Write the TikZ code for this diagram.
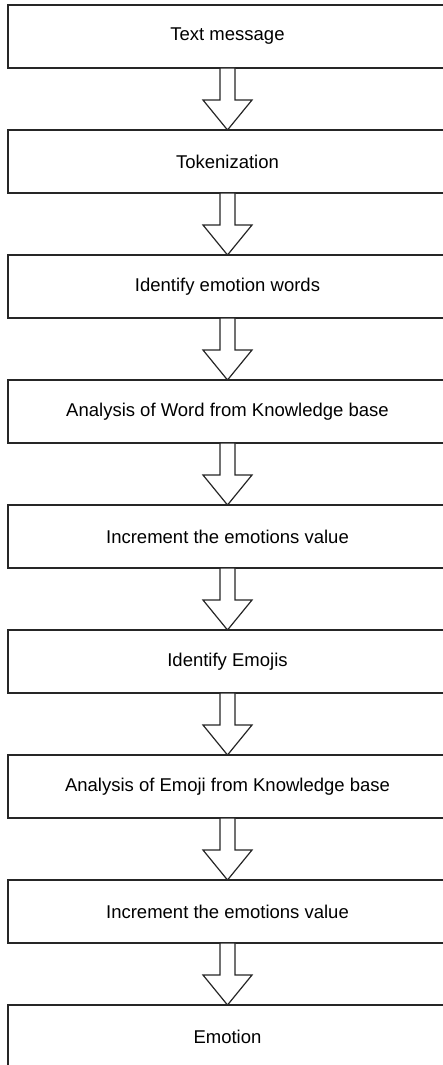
\documentclass[tikz,border=0pt]{standalone}
\usepackage{fontspec}
\setmainfont{Liberation Sans}
\usetikzlibrary{calc,positioning}
\tikzset{node distance=62pt,
  stepbox/.style={draw=black!85, line width=1.2pt, minimum width=439pt, minimum height=63pt,
    font=\fontsize{18.5}{22}\selectfont, inner sep=0pt, outer sep=0pt},
  fatarrow/.style={draw=black!85, line width=1.2pt, fill=white, line join=miter}}

\begin{document}
\begin{tikzpicture}
                \useasboundingbox (0,0) rectangle (443pt,-1065pt);
                \node[stepbox] (msg) at (227.5pt,-36.5pt) {Text message};
                \node[stepbox] (tok) [below=of msg] {Tokenization};
                \node[stepbox] (emo) [below=of tok] {Identify emotion words};
                \node[stepbox] (kbw) [below=of emo] {Analysis of Word from Knowledge base};
                \node[stepbox] (inw) [below=of kbw] {Increment the emotions value};
                \node[stepbox] (emj) [below=of inw] {Identify Emojis};
                \node[stepbox] (kbe) [below=of emj] {Analysis of Emoji from Knowledge base};
                \node[stepbox] (ine) [below=of kbe] {Increment the emotions value};
                \node[stepbox] (res) [below=of ine] {Emotion};
                \foreach \a/\b in {msg/tok, tok/emo, emo/kbw, kbw/inw, inw/emj, emj/kbe, kbe/ine, ine/res}
                  \draw[fatarrow] ($(\a.south)+(-7.5pt,0)$) -- ++(0,-32pt) -- ++(-17pt,0) -- (\b.north)
                    -- ++(24.5pt,30pt) -- ++(-17pt,0) -- ($(\a.south)+(7.5pt,0)$) -- cycle;
              \end{tikzpicture}
\end{document}
